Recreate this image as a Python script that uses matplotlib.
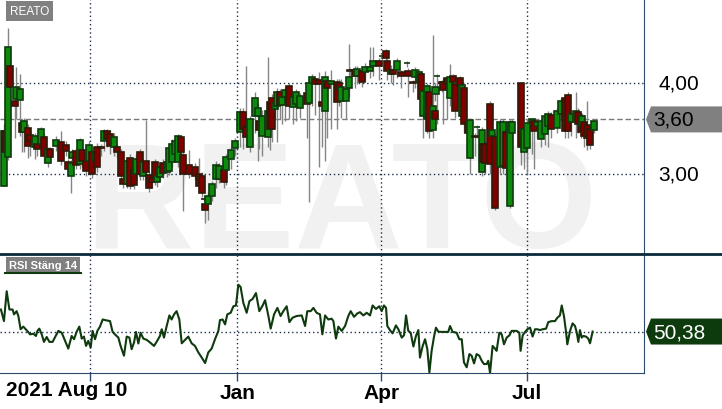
import datetime as dt
import matplotlib
matplotlib.use("Agg")
import matplotlib.pyplot as plt
from matplotlib.patches import Rectangle, Polygon
from matplotlib.lines import Line2D
from matplotlib.transforms import IdentityTransform

plt.rcParams["font.family"] = ["Liberation Sans", "DejaVu Sans"]

# days counted from the first session, 2021-08-10
START = dt.date(2021, 8, 10)
TICKER = "REATO"
LAST_PRICE = 3.60
LAST_RSI = 50.38

candle_day = [
    -1.9, -1.25, 0.6, 1.9, 5.0, 5.6, 8.1, 9.4, 10.6, 13.1,
    14.4, 17.5, 18.75, 21.25, 23.1, 25.6, 26.9, 30.6, 33.75, 36.9,
    38.1, 40.0, 40.6, 43.1, 45.6, 46.9, 49.4, 51.25, 53.1, 55.0,
    56.25, 58.75, 60.6, 62.5, 64.4, 66.9, 68.75, 71.25, 72.5, 75.0,
    76.9, 79.4, 80.6, 83.1, 85.0, 86.9, 88.75, 90.6, 92.5, 93.75,
    95.6, 97.5, 100.0, 101.25, 103.1, 105.0, 106.9, 108.75, 110.0, 113.75,
    117.5, 120.0, 121.9, 123.1, 123.75, 125.6, 128.1, 130.6, 132.5, 135.6,
    136.9, 140.0, 142.5, 145.6, 147.5, 149.4, 151.9, 155.0, 156.9, 157.5,
    159.4, 163.1, 164.4, 165.6, 167.5, 168.75, 170.6, 171.9, 173.75, 176.25,
    178.75, 180.6, 183.1, 187.5, 188.75, 190.6, 192.5, 195.0, 196.9, 198.75,
    200.0, 202.5, 206.25, 207.5, 208.75, 211.9, 213.75, 214.4, 217.5, 218.75,
    221.9, 223.75, 226.9, 228.75, 232.5, 234.4, 236.9, 237.5, 240.0, 241.25,
    243.75, 246.25, 250.0, 250.6, 253.75, 255.0, 257.5, 258.75, 260.0, 262.5,
    263.75, 266.25, 267.5, 267.6, 268.75, 271.9, 272.5, 275.0, 276.9, 278.75,
    280.0, 283.1, 284.4, 285.6, 288.1, 289.4, 292.5, 293.75, 296.9, 297.5,
    298.75, 301.9, 303.1, 305.0, 308.1, 310.0, 311.9, 314.4, 315.6, 321.25,
    323.1, 325.0, 328.1, 329.4, 331.25, 333.75, 336.25, 338.1, 340.0, 343.75,
    346.25, 348.75, 350.6, 352.5, 355.6, 356.9, 358.75, 359.4, 360.6, 362.5,
    364.4, 366.9,
]
opens = [
    2.87, 3.47, 3.19, 4.19, 3.80, 3.82, 3.81, 3.56, 3.46, 3.51,
    3.43, 3.30, 3.33, 3.33, 3.41, 3.12, 3.27, 3.31, 3.35, 3.32,
    3.13, 2.98, 3.18, 3.25, 3.11, 3.26, 3.14, 3.14, 3.24, 3.14,
    3.30, 3.30, 3.36, 3.47, 3.44, 3.30, 3.30, 3.24, 2.95, 2.89,
    3.18, 3.04, 3.00, 3.24, 2.98, 3.14, 2.99, 2.96, 3.13, 2.91,
    2.97, 3.12, 3.02, 3.03, 3.13, 3.22, 3.13, 3.41, 3.21, 3.10,
    3.08, 3.00, 2.98, 2.73, 2.67, 2.67, 2.76, 2.95, 2.95, 3.04,
    3.04, 3.16, 3.29, 3.46, 3.68, 3.52, 3.30, 3.64, 3.64, 3.58,
    3.42, 3.41, 3.79, 3.84, 3.71, 3.75, 3.90, 3.76, 3.85, 3.97,
    3.74, 3.77, 3.73, 3.89, 3.78, 4.00, 4.04, 4.03, 3.79, 3.69,
    4.02, 3.99, 4.01, 4.00, 3.80, 3.80, 3.95, 4.14, 4.14, 4.08,
    4.13, 4.12, 4.13, 4.19, 4.24, 4.30, 4.35, 4.24, 4.10, 4.14,
    4.14, 4.12, 4.22, 4.13, 4.01, 4.07, 4.01, 4.10, 3.64, 3.60,
    3.90, 3.48, 3.69, 3.88, 4.08, 4.01, 4.01, 4.05, 3.84, 4.08,
    3.99, 4.05, 3.64, 3.95, 3.56, 3.18, 3.42, 3.52, 3.02, 3.33,
    3.33, 3.77, 3.42, 3.41, 3.08, 3.09, 3.46, 2.65, 3.45, 4.00,
    3.24, 3.29, 3.57, 3.58, 3.53, 3.38, 3.44, 3.53, 3.65, 3.51,
    3.66, 3.84, 3.87, 3.57, 3.57, 3.68, 3.64, 3.53, 3.57, 3.54,
    3.49, 3.48,
]
highs = [
    3.55, 3.66, 4.60, 4.25, 3.85, 4.18, 4.10, 3.60, 3.62, 3.55,
    3.45, 3.45, 3.36, 3.52, 3.45, 3.30, 3.30, 3.42, 3.47, 3.36,
    3.16, 3.15, 3.27, 3.29, 3.40, 3.30, 3.18, 3.36, 3.30, 3.28,
    3.34, 3.33, 3.49, 3.49, 3.48, 3.45, 3.33, 3.28, 2.98, 3.17,
    3.22, 3.08, 3.22, 3.28, 3.17, 3.59, 3.03, 3.00, 3.16, 3.03,
    3.12, 3.16, 3.16, 3.32, 3.38, 3.40, 3.44, 3.43, 3.25, 3.26,
    3.12, 3.18, 3.02, 2.75, 2.70, 2.80, 2.92, 3.14, 3.12, 3.08,
    3.22, 3.30, 3.40, 3.72, 3.72, 4.19, 3.64, 3.90, 3.78, 3.62,
    3.70, 4.29, 3.85, 3.88, 3.83, 3.95, 3.93, 3.90, 3.96, 4.00,
    3.88, 3.93, 3.89, 3.92, 4.05, 4.10, 4.06, 4.12, 3.80, 4.13,
    4.06, 4.14, 4.04, 4.04, 4.04, 3.98, 4.43, 4.17, 4.19, 4.19,
    4.17, 4.22, 4.40, 4.40, 4.28, 4.32, 4.37, 4.27, 4.20, 4.17,
    4.27, 4.14, 4.24, 4.16, 4.03, 4.18, 4.15, 4.13, 3.95, 4.00,
    3.95, 4.53, 3.75, 4.00, 4.10, 4.03, 4.05, 4.08, 4.21, 4.10,
    4.02, 4.08, 4.02, 3.98, 3.60, 3.62, 3.45, 3.54, 3.52, 3.36,
    3.36, 3.80, 3.52, 3.45, 3.60, 3.60, 3.50, 3.60, 3.60, 4.00,
    3.55, 3.60, 3.62, 3.60, 3.59, 3.60, 3.66, 3.69, 3.68, 3.72,
    3.83, 3.87, 3.90, 3.70, 3.90, 3.72, 3.67, 3.67, 3.60, 3.80,
    3.52, 3.60,
]
lows = [
    2.87, 3.20, 3.15, 3.41, 3.40, 3.60, 3.42, 3.24, 3.24, 3.18,
    3.20, 3.17, 3.20, 3.25, 3.12, 3.08, 3.15, 3.25, 3.10, 3.20,
    3.00, 2.79, 3.15, 3.05, 3.05, 3.08, 2.98, 3.08, 2.96, 3.05,
    3.02, 3.20, 3.25, 3.30, 3.22, 3.20, 3.18, 2.93, 2.85, 2.85,
    2.83, 2.84, 2.95, 2.93, 2.93, 2.95, 2.80, 2.85, 2.88, 2.86,
    2.92, 2.96, 2.97, 2.99, 3.08, 3.18, 3.08, 3.20, 2.59, 2.96,
    2.93, 2.83, 2.75, 2.70, 2.46, 2.50, 2.70, 2.85, 2.90, 2.85,
    2.88, 3.05, 3.20, 3.30, 3.28, 3.30, 3.24, 3.45, 3.14, 3.28,
    3.20, 3.30, 3.26, 3.35, 3.62, 3.35, 3.60, 3.55, 3.58, 3.60,
    3.55, 3.58, 3.62, 3.40, 2.69, 3.75, 3.65, 3.08, 3.30, 3.14,
    3.40, 3.50, 3.50, 3.75, 3.62, 3.60, 3.85, 4.00, 3.95, 3.99,
    3.96, 4.02, 4.05, 4.08, 4.03, 4.25, 4.20, 4.03, 4.00, 3.98,
    4.05, 3.95, 4.18, 3.85, 3.90, 3.95, 3.85, 3.70, 3.40, 3.45,
    3.40, 3.40, 3.50, 3.80, 3.55, 3.90, 3.55, 3.60, 3.75, 3.85,
    3.62, 3.90, 3.60, 3.45, 3.30, 3.00, 3.20, 3.40, 2.98, 3.05,
    3.00, 3.00, 3.30, 2.60, 3.00, 3.00, 3.00, 2.63, 3.10, 3.10,
    3.05, 3.00, 3.22, 3.05, 3.40, 3.30, 3.32, 3.30, 3.40, 3.45,
    3.58, 3.40, 3.40, 3.42, 3.40, 3.45, 3.40, 3.42, 3.30, 3.26,
    3.28, 3.45,
]
closes = [
    3.47, 3.24, 4.40, 3.96, 3.75, 3.96, 3.93, 3.46, 3.58, 3.31,
    3.36, 3.42, 3.27, 3.49, 3.20, 3.27, 3.19, 3.37, 3.14, 3.25,
    3.05, 3.12, 3.24, 3.10, 3.37, 3.14, 3.03, 3.32, 3.00, 3.24,
    3.08, 3.29, 3.47, 3.38, 3.31, 3.41, 3.24, 2.98, 2.89, 3.14,
    2.87, 2.88, 3.16, 3.00, 3.13, 3.02, 2.85, 2.91, 2.95, 2.98,
    3.08, 3.01, 3.13, 3.29, 3.33, 3.36, 3.42, 3.24, 3.00, 3.00,
    2.98, 2.87, 2.79, 2.72, 2.60, 2.76, 2.89, 3.10, 3.09, 2.91,
    3.19, 3.26, 3.36, 3.68, 3.49, 3.41, 3.60, 3.84, 3.73, 3.48,
    3.64, 3.69, 3.49, 3.49, 3.78, 3.90, 3.76, 3.85, 3.92, 3.75,
    3.85, 3.90, 3.86, 3.77, 4.00, 4.07, 3.99, 3.99, 3.75, 4.07,
    3.95, 4.02, 3.79, 3.93, 3.96, 3.93, 4.07, 4.13, 4.08, 4.15,
    4.01, 4.18, 4.18, 4.24, 4.19, 4.30, 4.27, 4.13, 4.14, 4.10,
    4.24, 4.08, 4.22, 4.08, 4.00, 4.14, 4.12, 3.82, 3.91, 3.97,
    3.47, 3.75, 3.60, 3.96, 4.08, 4.00, 3.92, 3.99, 4.07, 4.01,
    3.69, 3.97, 3.98, 3.55, 3.45, 3.59, 3.41, 3.52, 3.48, 3.13,
    3.12, 3.11, 3.48, 2.63, 3.57, 3.57, 3.07, 3.57, 3.57, 3.30,
    3.49, 3.56, 3.60, 3.47, 3.57, 3.58, 3.64, 3.66, 3.49, 3.69,
    3.80, 3.47, 3.47, 3.66, 3.69, 3.55, 3.46, 3.64, 3.42, 3.40,
    3.32, 3.58,
]

rsi_day = [
    -3.8, -1.9, -0.2, 1.5, 3.5, 4.4, 6.0, 7.1, 8.5, 10.2,
    12.3, 14.4, 16.5, 18.1, 19.0, 20.2, 21.7, 23.1, 24.8, 26.5,
    28.5, 30.6, 32.1, 34.2, 36.3, 38.3, 40.4, 41.9, 43.5, 45.2,
    46.7, 48.1, 49.4, 50.8, 52.3, 53.5, 55.0, 56.5, 58.1, 59.8,
    61.9, 64.4, 66.0, 68.1, 69.6, 71.0, 73.1, 74.8, 76.5, 77.9,
    79.4, 80.6, 82.1, 83.5, 85.2, 87.3, 89.4, 91.9, 93.5, 95.6,
    96.7, 98.1, 99.8, 101.5, 102.9, 104.4, 106.0, 107.7, 109.2, 111.3,
    113.3, 115.4, 117.5, 119.6, 121.7, 123.8, 125.8, 127.9, 130.0, 132.1,
    133.1, 134.8, 136.3, 137.7, 139.8, 141.5, 143.1, 144.6, 146.0, 147.7,
    149.8, 151.5, 153.5, 155.6, 157.7, 159.8, 161.3, 163.3, 164.8, 166.9,
    169.0, 171.0, 172.7, 174.8, 176.5, 178.5, 181.0, 184.2, 186.3, 187.7,
    189.8, 191.5, 193.5, 195.6, 197.1, 198.8, 200.8, 202.9, 204.0, 205.6,
    207.1, 209.2, 211.3, 213.3, 214.8, 216.9, 219.0, 220.6, 222.7, 224.8,
    226.9, 228.5, 230.6, 232.7, 234.2, 235.6, 236.9, 237.7, 239.4, 241.0,
    243.1, 244.6, 246.7, 248.1, 249.4, 250.8, 252.3, 254.0, 255.6, 257.1,
    258.1, 259.8, 261.3, 262.7, 264.0, 265.4, 266.9, 268.1, 269.6, 271.7,
    273.8, 275.8, 276.9, 278.5, 281.0, 282.7, 284.2, 285.6, 287.3, 289.0,
    290.4, 291.9, 293.5, 295.2, 296.7, 298.1, 299.8, 300.8, 301.9, 303.5,
    305.0, 306.0, 307.7, 309.2, 310.6, 312.3, 314.0, 315.4, 316.9, 318.5,
    320.2, 321.0, 322.3, 323.8, 325.2, 326.9, 328.5, 330.0, 331.5, 333.1,
    334.8, 336.9, 338.3, 340.4, 342.5, 344.0, 345.6, 346.7, 348.1, 349.4,
    350.2, 351.9, 353.5, 355.0, 356.0, 357.1, 358.1, 359.2, 360.2, 361.9,
    363.3, 364.4, 366.0,
]
rsi_val = [
    61.2, 55.5, 70.2, 61.2, 61.2, 58.8, 60.4, 58.0, 51.5, 52.8,
    51.0, 49.0, 49.3, 48.2, 50.7, 51.8, 49.0, 45.3, 47.7, 45.3,
    45.3, 48.5, 50.7, 49.8, 45.8, 42.0, 48.2, 46.6, 50.2, 52.8,
    46.9, 47.9, 43.3, 45.8, 42.5, 50.7, 46.6, 50.7, 52.8, 56.3,
    55.9, 55.5, 50.2, 48.5, 47.4, 43.3, 38.5, 47.9, 47.4, 41.7,
    45.0, 50.2, 44.5, 49.8, 46.9, 46.3, 45.0, 43.3, 45.3, 48.2,
    51.5, 47.4, 53.1, 58.3, 56.3, 58.8, 60.4, 56.3, 44.6, 46.3,
    47.9, 44.6, 43.3, 40.1, 37.6, 34.9, 40.1, 42.0, 46.6, 50.7,
    56.0, 56.3, 53.9, 58.8, 59.6, 62.8, 63.2, 73.4, 72.3, 64.5,
    59.6, 65.3, 66.4, 69.3, 60.4, 63.2, 65.8, 58.3, 51.8, 58.8,
    62.0, 58.0, 60.4, 62.8, 55.0, 57.2, 58.0, 58.3, 53.1, 60.4,
    60.4, 62.0, 59.6, 58.8, 49.0, 58.3, 56.3, 56.7, 55.5, 46.9,
    52.8, 50.7, 53.1, 58.0, 60.4, 57.6, 59.3, 59.9, 58.3, 59.6,
    58.3, 63.2, 61.5, 62.8, 60.4, 63.2, 62.0, 53.1, 51.0, 49.5,
    53.4, 51.5, 47.4, 48.5, 58.3, 50.7, 49.8, 43.0, 48.2, 51.1,
    37.6, 43.3, 46.6, 41.7, 30.3, 40.9, 47.9, 52.3, 50.3, 50.2,
    50.2, 50.2, 53.1, 50.2, 49.8, 46.6, 46.6, 35.2, 32.8, 39.3,
    38.5, 34.7, 39.3, 38.5, 36.0, 34.4, 34.4, 36.0, 30.0, 43.3,
    42.0, 40.9, 49.8, 49.0, 44.1, 47.4, 48.5, 50.7, 50.7, 50.7,
    49.8, 40.9, 48.5, 50.2, 51.5, 52.3, 47.9, 51.5, 51.5, 51.1,
    51.5, 51.8, 55.0, 55.5, 55.5, 57.2, 58.3, 63.2, 58.0, 50.2,
    44.1, 50.7, 54.4, 53.1, 50.2, 45.3, 51.1, 47.4, 48.2, 47.9,
    46.9, 44.6, 50.38,
]

grid_dates = [dt.date(2021, 10, 1), dt.date(2022, 1, 1), dt.date(2022, 4, 1), dt.date(2022, 7, 1)]
grid_labels = ["", "Jan", "Apr", "Jul"]
price_grid = [3.0, 4.0]
price_labels = ["3,00", "4,00"]

UP = "#0b8a0b"
UP_EDGE = "#0f3a0f"
DOWN = "#800000"
DOWN_EDGE = "#2e1a08"
NAVY = "#2b4a6e"
DOT = (0, (1, 2))

W, H = 722, 410
fig = plt.figure(figsize=(W / 100, H / 100), dpi=100)
fig.patch.set_facecolor("white")
ax = fig.add_axes([0, 1 - 255 / H, 644 / W, 255 / H])
ar = fig.add_axes([0, 1 - 374 / H, 644 / W, 118 / H])

grid_days = [(d - START).days for d in grid_dates]
x0, x1 = -4.375, 398.125

# price panel
ax.set_xlim(x0, x1)
ax.set_ylim(2.121, 4.923)
ax.text(0.1335, 0.0275, TICKER, transform=ax.transAxes, fontsize=108,
        fontweight="bold", color="#f1f1f1", ha="left", va="baseline",
        zorder=0, clip_on=True)
for g in price_grid:
    ax.axhline(g, color="#1b2f4f", lw=1, ls=DOT, zorder=1)
for g in grid_days:
    ax.axvline(g, color="#1b2f4f", lw=1, ls=DOT, zorder=1)
ax.axhline(LAST_PRICE, color="#7a7a7a", lw=1, ls=(0, (4, 2)), zorder=1)

ax.vlines(candle_day, lows, highs, color="#858585", lw=1, zorder=2)
bw = 4.2
for d, o, h, l, c in zip(candle_day, opens, highs, lows, closes):
    up = c >= o
    ax.add_patch(Rectangle((d - bw / 2, min(o, c)), bw, abs(c - o),
                           fc=UP if up else DOWN, ec=UP_EDGE if up else DOWN_EDGE,
                           lw=1.2, zorder=3))

ax.set_xticks([])
ax.set_yticks([])
for s in ["left", "top", "bottom"]:
    ax.spines[s].set_visible(False)
ax.spines["right"].set_color(NAVY)

for g, lab in zip(price_grid, price_labels):
    ax.text(658 / 644, g, lab, transform=ax.get_yaxis_transform(), fontsize=15,
            ha="left", va="center", clip_on=False)

ax.text(10 / 644, 1 - 12 / 255, TICKER, transform=ax.transAxes, fontsize=8.5,
        color="white", ha="left", va="center",
        bbox=dict(boxstyle="square,pad=0.3", fc="#808080", ec="none"))

# rsi panel
ar.set_xlim(x0, x1)
ar.set_ylim(30, 88)
ar.axhline(50, color="#1b2f4f", lw=1, ls=DOT, zorder=1)
for g in grid_days:
    ar.axvline(g, color="#1b2f4f", lw=1, ls=DOT, zorder=1)
ar.plot(rsi_day, rsi_val, color="#0e3a0e", lw=1.5, zorder=3)
ar.set_yticks([])
ar.set_xticks(grid_days)
ar.set_xticklabels(grid_labels, fontsize=15, fontweight="bold")
ar.tick_params(axis="x", length=6, width=1, color=NAVY, pad=1)
for s in ["left", "top"]:
    ar.spines[s].set_visible(False)
ar.spines["right"].set_color(NAVY)
ar.spines["bottom"].set_color(NAVY)

ar.text(9 / 644, 0.915, "RSI Stäng 14", transform=ar.transAxes, fontsize=8,
        fontweight="bold", color="white", ha="left", va="center",
        bbox=dict(boxstyle="square,pad=0.25", fc="#808080", ec="none"))
fig.add_artist(Line2D([5 / W, 81 / W], [1 - 273.5 / H] * 2, color="#0e3a0e", lw=1.5))

fig.text(6 / W, 1 - 391 / H, "2021 Aug 10", fontsize=15, fontweight="bold",
         ha="left", va="center")

# panel separator across full width
fig.add_artist(Line2D([0, 1], [1 - 255 / H] * 2, color="#0b2a3c", lw=2))


def value_tag(axis, value, text, fc, tc):
    y = axis.transData.transform((0, value))[1]
    pts = [(646, y), (651, y + 13), (W, y + 13), (W, y - 13), (651, y - 13)]
    fig.add_artist(Polygon(pts, closed=True, transform=IdentityTransform(),
                           fc=fc, ec="none"))
    fig.text(653 / W, y / H, text, fontsize=15, color=tc, ha="left", va="center")


value_tag(ax, LAST_PRICE, "3,60", "#808080", "black")
value_tag(ar, LAST_RSI, "50,38", "#0d3b0d", "white")

fig.savefig("out.png", dpi=100, facecolor="white")
